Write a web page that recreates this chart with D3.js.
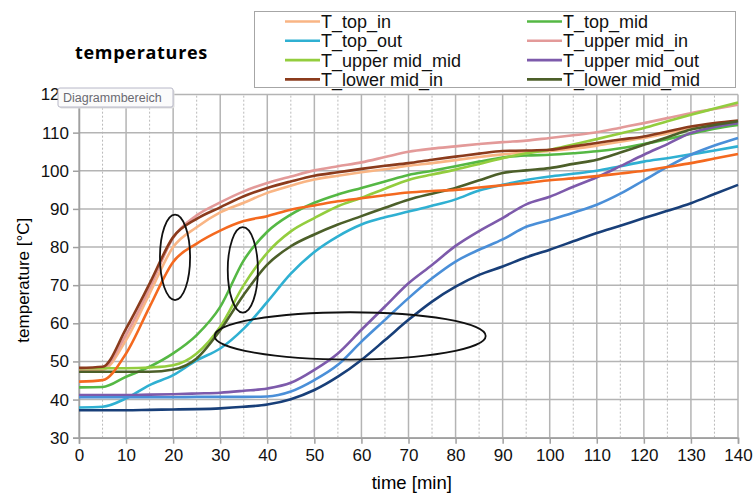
<!DOCTYPE html>
<html>
<head>
<meta charset="utf-8">
<script src="https://cdnjs.cloudflare.com/ajax/libs/d3/7.8.5/d3.min.js"></script>
<style>
  body { margin: 0; background: #fff; }
  text { font-family: "Liberation Sans", Arial, sans-serif; }
</style>
</head>
<body>
<div class="d3"></div>
<script>
// minutes
var time = [0,5,10,15,20,25,30,35,40,45,50,55,60,65,70,75,80,85,90,95,100,105,110,115,120,125,130,135,140];

// temperatures in °C, one value per entry of time
var T_top_in         = [47.6,47.8,55.6,67.8,80.0,85.2,89.1,91.6,94.2,96.1,97.7,98.7,99.6,100.4,101.3,102.0,102.8,103.6,104.3,104.8,105.2,105.8,106.6,107.6,108.6,109.8,111.0,112.0,112.8];
var T_top_mid        = [43.2,43.3,46.0,48.6,52.1,56.9,64.3,76.5,84.0,88.5,91.6,93.8,95.5,97.2,98.9,100.0,101.2,102.4,103.5,104.0,104.2,104.6,105.1,105.9,107.0,108.3,109.7,111.0,112.0];
var T_top_out        = [37.9,38.1,40.3,43.8,46.4,50.3,53.4,58.6,65.6,73.0,78.7,82.8,85.9,87.8,89.3,90.8,92.5,94.8,96.3,97.6,98.5,99.2,100.0,101.2,102.4,103.3,104.3,105.3,106.4];
var T_upper_mid_in   = [48.1,48.3,57.0,69.2,82.4,88.3,91.7,94.6,96.8,98.5,100.1,101.2,102.2,103.6,105.0,105.8,106.4,107.0,107.5,107.9,108.6,109.3,110.1,111.3,112.5,113.8,115.1,116.2,117.3];
var T_upper_mid_mid  = [48.2,48.2,48.2,48.4,49.0,52.1,59.1,70.0,78.5,84.1,87.6,90.7,92.9,95.3,97.6,99.0,100.3,101.8,103.3,104.6,105.5,106.9,108.3,109.8,111.2,113.0,114.7,116.3,117.9];
var T_upper_mid_out  = [41.2,41.2,41.2,41.3,41.4,41.6,41.8,42.3,42.9,44.4,47.8,52.1,58.3,64.4,70.5,75.3,80.3,84.2,87.6,91.2,93.2,95.8,98.3,101.2,104.2,107.0,109.9,111.5,112.5];
var T_lower_mid_in   = [48.3,48.6,58.6,70.4,82.6,87.4,90.4,93.3,95.5,97.2,98.7,99.6,100.5,101.3,102.0,102.9,103.7,104.5,105.2,105.3,105.5,106.4,107.3,108.2,109.0,110.3,111.6,112.5,113.2];
var T_lower_mid_mid  = [47.3,47.3,47.3,47.3,47.9,50.8,58.2,67.5,75.4,80.2,83.3,85.9,88.1,90.3,92.4,94.0,95.5,97.5,99.4,100.1,100.7,101.8,102.9,104.8,106.8,108.8,110.8,112.0,113.0];
var T_lower_mid_out  = [40.6,40.6,40.6,40.6,40.6,40.7,40.7,40.7,40.8,42.1,45.1,49.1,55.2,60.9,66.6,71.8,76.2,79.3,82.0,85.3,87.1,89.0,91.1,94.0,97.5,101.0,104.2,106.6,108.6];
var T_bottom_in      = [44.7,45.1,52.1,64.3,76.1,80.9,84.3,86.8,88.1,89.8,90.9,92.0,92.8,93.6,94.3,94.7,95.0,95.6,96.2,96.8,97.5,98.0,98.6,99.3,100.0,101.0,102.0,103.2,104.4];
var T_bottom_out     = [37.2,37.2,37.2,37.3,37.4,37.5,37.7,38.1,38.7,40.1,42.5,46.0,50.4,55.6,60.9,65.7,69.6,72.7,74.9,77.3,79.3,81.5,83.7,85.6,87.6,89.5,91.5,93.9,96.3];

var seriesNames = ["T_top_in", "T_top_mid", "T_top_out", "T_upper mid_in", "T_upper mid_mid", "T_upper mid_out",
                   "T_lower mid_in", "T_lower mid_mid", "T_lower mid_out", "T_bottom_in", "T_bottom_out"];
var seriesValues = [T_top_in, T_top_mid, T_top_out, T_upper_mid_in, T_upper_mid_mid, T_upper_mid_out,
                    T_lower_mid_in, T_lower_mid_mid, T_lower_mid_out, T_bottom_in, T_bottom_out];
var seriesColors = ["#f9b584", "#55b844", "#2fb0d2", "#e39a99", "#93cd3e", "#7d5aab",
                    "#8b3b1c", "#4c5f29", "#4a8fd8", "#f4691f", "#183f79"];
var legendCount = 8; // the legend only shows the first eight

var xTicks = d3.range(0, 141, 10),
    xMinor = d3.range(5, 140, 10),
    yTicks = d3.range(30, 121, 10);

// hand drawn ellipses: centre and radii in data units (min, °C)
var marks = [
  {t: 20.4, T: 77.3, rt: 3.2, rT: 11.2},
  {t: 34.8, T: 74.0, rt: 3.2, rT: 11.2},
  {t: 57.6, T: 56.7, rt: 28.8, rT: 6.2}
];

var width = 755, height = 496;
var margin = {top: 94.5, right: 17, bottom: 58.3, left: 79};

var x = d3.scaleLinear().domain([0, 140]).range([margin.left, width - margin.right]);
var y = d3.scaleLinear().domain([30, 120]).range([height - margin.bottom, margin.top]);

var svg = d3.select(".d3").append("svg")
    .attr("width", width)
    .attr("height", height)
    .style("display", "block");

// grid
svg.append("g").selectAll("line")
    .data(xMinor)
  .enter().append("line")
    .attr("x1", function(d) { return x(d); })
    .attr("x2", function(d) { return x(d); })
    .attr("y1", y(30))
    .attr("y2", y(120))
    .attr("stroke", "#a8a8a8")
    .attr("stroke-width", 0.8)
    .attr("stroke-dasharray", "2,2");

svg.append("g").selectAll("line")
    .data(xTicks)
  .enter().append("line")
    .attr("x1", function(d) { return x(d); })
    .attr("x2", function(d) { return x(d); })
    .attr("y1", y(30))
    .attr("y2", y(120))
    .attr("stroke", "#b4b4b4")
    .attr("stroke-width", 1.5);

svg.append("g").selectAll("line")
    .data(yTicks)
  .enter().append("line")
    .attr("x1", x(0))
    .attr("x2", x(140))
    .attr("y1", function(d) { return y(d); })
    .attr("y2", function(d) { return y(d); })
    .attr("stroke", "#b4b4b4")
    .attr("stroke-width", 1.5);

// axes
var xAxis = d3.axisBottom(x).tickValues(xTicks).tickSize(6).tickPadding(5);
var yAxis = d3.axisLeft(y).tickValues(yTicks).tickSize(6).tickPadding(4);

var gx = svg.append("g")
    .attr("transform", "translate(0," + y(30) + ")")
    .call(xAxis);
var gy = svg.append("g")
    .attr("transform", "translate(" + x(0) + ",0)")
    .call(yAxis);

[gx, gy].forEach(function(g) {
  g.selectAll("path, line").attr("stroke", "#a0a0a0").attr("stroke-width", 1.5);
  g.selectAll("text").attr("fill", "#111").style("font-size", "17px");
});

// lines
var line = d3.line()
    .x(function(d, i) { return x(time[i]); })
    .y(function(d) { return y(d); })
    .curve(d3.curveMonotoneX);

svg.append("g").selectAll("path")
    .data(seriesValues)
  .enter().append("path")
    .attr("d", line)
    .attr("fill", "none")
    .attr("stroke", function(d, i) { return seriesColors[i]; })
    .attr("stroke-width", 2.6)
    .attr("stroke-linejoin", "round");

// ellipses
svg.append("g").selectAll("ellipse")
    .data(marks)
  .enter().append("ellipse")
    .attr("cx", function(d) { return x(d.t); })
    .attr("cy", function(d) { return y(d.T); })
    .attr("rx", function(d) { return x(d.rt) - x(0); })
    .attr("ry", function(d) { return y(0) - y(d.rT); })
    .attr("fill", "none")
    .attr("stroke", "#111")
    .attr("stroke-width", 1.8);

// titles
svg.append("text")
    .attr("x", 75)
    .attr("y", 59)
    .style("font-family", "'Open Sans', sans-serif")
    .style("font-weight", "bold")
    .style("font-size", "18px")
    .style("letter-spacing", "0.7px")
    .text("temperatures");

svg.append("text")
    .attr("x", x(70.7))
    .attr("y", 489)
    .attr("text-anchor", "middle")
    .style("font-size", "18.5px")
    .text("time [min]");

svg.append("text")
    .attr("transform", "translate(29," + y(71.3) + ") rotate(-90)")
    .attr("text-anchor", "middle")
    .style("font-size", "17px")
    .text("temperature [°C]");

// legend
var legend = svg.append("g");
legend.append("rect")
    .attr("x", 254.5)
    .attr("y", 11.5)
    .attr("width", 481)
    .attr("height", 76)
    .attr("fill", "#fff")
    .attr("stroke", "#a6a6a6");

var item = legend.selectAll(".item")
    .data(seriesNames.slice(0, legendCount))
  .enter().append("g")
    .attr("class", "item")
    .attr("transform", function(d, i) {
      return "translate(" + (i % 2 ? 527 : 285) + "," + (21.5 + Math.floor(i / 2) * 19.3) + ")";
    });

item.append("line")
    .attr("x1", 0)
    .attr("x2", 35)
    .attr("stroke", function(d, i) { return seriesColors[i]; })
    .attr("stroke-width", 2.6);

item.append("text")
    .attr("x", 36)
    .attr("dy", "0.36em")
    .style("font-size", "18px")
    .attr("fill", "#111")
    .text(function(d) { return d; });

// tooltip left by the chart tool
var tip = svg.append("g").attr("transform", "translate(58,88)");
tip.append("rect")
    .attr("x", 1.5).attr("y", 1.5)
    .attr("width", 115).attr("height", 19)
    .attr("rx", 2)
    .attr("fill", "#ddd");
tip.append("rect")
    .attr("width", 115).attr("height", 19)
    .attr("rx", 2)
    .attr("fill", "#fbfbfb")
    .attr("stroke", "#b8b8c8");
tip.append("text")
    .attr("x", 5)
    .attr("y", 14)
    .attr("fill", "#6a6a72")
    .style("font-size", "12.5px")
    .text("Diagrammbereich");
</script>
</body>
</html>
